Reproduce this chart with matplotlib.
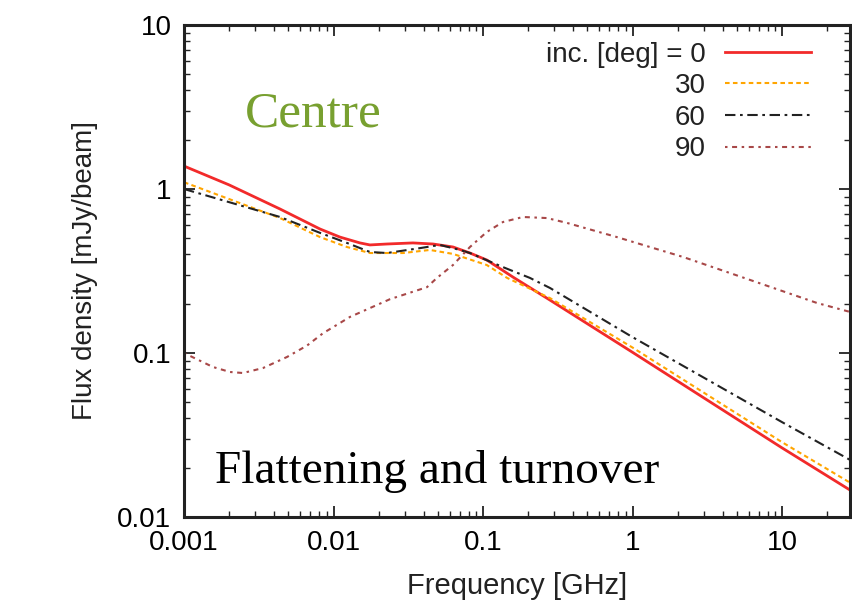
import matplotlib
matplotlib.use('Agg')
import matplotlib.pyplot as plt
from matplotlib.ticker import LogLocator, NullFormatter, FixedLocator, FixedFormatter

# values (frequency in GHz, flux in mJy/beam)
freq_0 = [0.001, 0.002, 0.00439, 0.00813, 0.01105, 0.01503, 0.01753, 0.0228, 0.034, 0.0463,
          0.063, 0.0818, 0.106, 0.159, 0.281, 1.0, 10.0, 28.5]
flux_0 = [1.38, 1.06, 0.755, 0.57, 0.509, 0.469, 0.456, 0.462, 0.469, 0.462,
          0.443, 0.407, 0.369, 0.290, 0.210, 0.101, 0.0264, 0.0146]

freq_30 = [0.001, 0.00439, 0.00813, 0.0123, 0.01753, 0.0292, 0.0441, 0.063, 0.106, 0.145,
           0.281, 1.0, 10.0, 28.5]
flux_30 = [1.10, 0.665, 0.509, 0.443, 0.407, 0.407, 0.425, 0.402, 0.344, 0.287,
           0.216, 0.108, 0.0286, 0.0162]

freq_60 = [0.001, 0.00439, 0.00813, 0.0123, 0.01753, 0.0228, 0.0379, 0.0515, 0.0701, 0.0818,
           0.136, 0.206, 0.281, 1.0, 10.0, 28.5]
flux_60 = [1.0, 0.675, 0.540, 0.469, 0.413, 0.407, 0.436, 0.456, 0.425, 0.407,
           0.334, 0.287, 0.249, 0.125, 0.0379, 0.0223]

freq_90 = [0.001, 0.00156, 0.00203, 0.00248, 0.00338, 0.00489, 0.00665, 0.00851, 0.0129, 0.0239,
           0.0422, 0.0492, 0.063, 0.0818, 0.106, 0.136, 0.185, 0.268, 0.365, 0.787,
           2.18, 6.11, 17.1, 28.5]
flux_90 = [0.100, 0.0822, 0.0766, 0.0755, 0.081, 0.0946, 0.111, 0.132, 0.166, 0.213,
           0.252, 0.287, 0.344, 0.443, 0.547, 0.629, 0.675, 0.665, 0.621, 0.509,
           0.385, 0.279, 0.202, 0.178]

labels = ['inc. [deg] = 0', '30', '60', '90']
xticks = [0.001, 0.01, 0.1, 1, 10]
xticklabels = ['0.001', '0.01', '0.1', '1', '10']
yticks = [0.01, 0.1, 1, 10]
yticklabels = ['0.01', '0.1', '1', '10']

plt.rcParams['font.family'] = 'Liberation Sans'

fig = plt.figure(figsize=(8.52, 6.16), dpi=100)
ax = fig.add_axes([184/852, 99/616, 666/852, 492/616])

ax.plot(freq_0, flux_0, color='#f22a2a', lw=2.0, ls='-', label=labels[0])
ax.plot(freq_30, flux_30, color='#ffa500', lw=1.5, ls=(0, (2.2, 1.6)), label=labels[1])
ax.plot(freq_60, flux_60, color='#222222', lw=1.5, ls=(0, (5, 2.2, 1.3, 2.2)), label=labels[2])
ax.plot(freq_90, flux_90, color='#a84848', lw=1.5, ls=(0, (1.2, 2.2, 2.4, 2.2)), label=labels[3])

ax.set_xscale('log')
ax.set_yscale('log')
ax.set_xlim(0.001, 28.5)
ax.set_ylim(0.01, 10)

ax.xaxis.set_major_locator(FixedLocator(xticks))
ax.xaxis.set_major_formatter(FixedFormatter(xticklabels))
ax.yaxis.set_major_locator(FixedLocator(yticks))
ax.yaxis.set_major_formatter(FixedFormatter(yticklabels))
ax.xaxis.set_minor_locator(LogLocator(base=10, subs=range(2, 10), numticks=20))
ax.yaxis.set_minor_locator(LogLocator(base=10, subs=range(2, 10), numticks=20))
ax.xaxis.set_minor_formatter(NullFormatter())
ax.yaxis.set_minor_formatter(NullFormatter())

ax.tick_params(which='both', direction='in', top=True, right=True, color='#222222')
ax.tick_params(which='major', length=8, width=1.3, labelsize=20, pad=9)
ax.tick_params(which='minor', length=4, width=1.0)
for s in ax.spines.values():
    s.set_linewidth(2.2)
    s.set_color('#222222')

ax.set_xlabel('Frequency [GHz]', fontsize=21, color='#222222', labelpad=12)
ax.set_ylabel('Flux density [mJy/beam]', fontsize=20, color='#222222', labelpad=14)

leg = ax.legend(loc='upper right', bbox_to_anchor=(0.967, 1.0), frameon=False,
                markerfirst=False, fontsize=20, handlelength=3.1, handletextpad=0.7,
                labelspacing=0.2, borderaxespad=0.2)
for t in leg.get_texts():
    t.set_color('#222222')

ax.text(0.092, 0.793, 'Centre', transform=ax.transAxes, fontsize=37,
        family='Liberation Serif', color='#78a030')
ax.text(0.047, 0.069, 'Flattening and turnover', transform=ax.transAxes, fontsize=34,
        family='Liberation Serif', color='black')

fig.savefig('out.png', dpi=100)
